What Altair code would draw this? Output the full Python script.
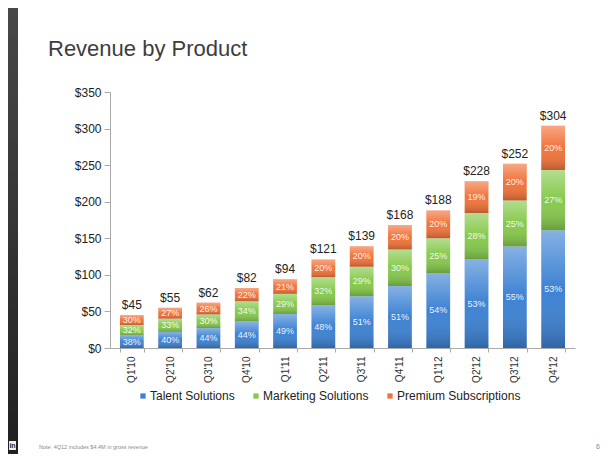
import altair as alt
import pandas as pd

quarters = ["Q1'10", "Q2'10", "Q3'10", "Q4'10", "Q1'11", "Q2'11",
            "Q3'11", "Q4'11", "Q1'12", "Q2'12", "Q3'12", "Q4'12"]
totals = [45, 55, 62, 82, 94, 121, 139, 168, 188, 228, 252, 304]
talent_pct = [38, 40, 44, 44, 49, 48, 51, 51, 54, 53, 55, 53]
marketing_pct = [32, 33, 30, 34, 29, 32, 29, 30, 25, 28, 25, 27]
premium_pct = [30, 27, 26, 22, 21, 20, 20, 20, 20, 19, 20, 20]
series = ["Talent Solutions", "Marketing Solutions", "Premium Subscriptions"]
colors = ["#3d82d3", "#86c94c", "#f1733a"]
y_ticks = [0, 50, 100, 150, 200, 250, 300, 350]

rows = []
for i, q in enumerate(quarters):
    pcts = [talent_pct[i], marketing_pct[i], premium_pct[i]]
    s = sum(pcts)
    base = 0.0
    for k, name in enumerate(series):
        v = totals[i] * pcts[k] / s
        rows.append({"quarter": q, "series": name, "y0": base, "y1": base + v,
                     "mid": base + v / 2, "label": f"{pcts[k]}%"})
        base += v
seg = pd.DataFrame(rows)
tot = pd.DataFrame({"quarter": quarters, "total": totals,
                    "label": [f"${t}" for t in totals]})

FONT = "Liberation Sans"
x_axis = alt.Axis(labelAngle=270, labelFontSize=10, labelColor="#333333",
                  labelFont=FONT, domainColor="#aaaaaa", tickColor="#aaaaaa",
                  tickSize=4, tickBand="extent", labelPadding=4)
x_scale = alt.Scale(paddingInner=0.38, paddingOuter=0.26)
y_scale = alt.Scale(domain=[0, 350], nice=False)
y_axis = alt.Axis(values=y_ticks, format="$.0f", grid=False, labelFontSize=12,
                  labelColor="#222222", labelFont=FONT, domainColor="#aaaaaa",
                  tickColor="#aaaaaa", tickSize=6, labelPadding=3,
                  labelOverlap=False, tickCount=8)


def X():
    return alt.X("quarter:N", sort=quarters, title=None, scale=x_scale, axis=x_axis)


def Y(field):
    return alt.Y(field, scale=y_scale, axis=y_axis, title=None)


bars = alt.Chart(seg).mark_bar().encode(
    x=X(),
    y=Y("y0:Q"),
    y2="y1:Q",
    color=alt.Color("series:N", sort=series,
                    scale=alt.Scale(domain=series, range=colors),
                    legend=alt.Legend(orient="none", direction="horizontal",
                                      legendX=27, legendY=298, title=None,
                                      symbolType="square", symbolSize=28,
                                      symbolStrokeWidth=0, labelFontSize=12,
                                      labelFont=FONT, labelColor="#222222",
                                      columnPadding=15, labelOffset=1)),
)

shade = alt.Chart(seg).mark_bar(
    color=alt.Gradient(gradient="linear", x1=0, x2=0, y1=0, y2=1,
                       stops=[alt.GradientStop(offset=0, color="rgba(255,255,255,0.38)"),
                              alt.GradientStop(offset=0.5, color="rgba(255,255,255,0.0)"),
                              alt.GradientStop(offset=1, color="rgba(0,0,0,0.22)")])
).encode(x=X(), y=Y("y0:Q"), y2="y1:Q")

pct_text = alt.Chart(seg).mark_text(font=FONT, fontSize=9, color="#ffffff",
                                    opacity=0.9, baseline="middle").encode(
    x=X(), y=Y("mid:Q"), text="label:N")

tot_text = alt.Chart(tot).mark_text(font=FONT, fontSize=12, color="#222222",
                                    dy=-6, baseline="alphabetic").encode(
    x=X(), y=Y("total:Q"), text="label:N")

deco = pd.DataFrame({"t": ["Revenue by Product"]})
title = alt.Chart(deco).mark_text(font=FONT, fontSize=22, color="#3d3d3d",
                                  align="left", baseline="alphabetic").encode(
    x=alt.value(-62), y=alt.value(-36), text="t:N")

strip = alt.Chart(deco).mark_rect(
    color=alt.Gradient(gradient="linear", x1=0, x2=0, y1=0, y2=1,
                       stops=[alt.GradientStop(offset=0, color="#484848"),
                              alt.GradientStop(offset=1, color="#202020")])
).encode(x=alt.value(-102), x2=alt.value(-92), y=alt.value(-84), y2=alt.value(370))

logo_bg = alt.Chart(deco).mark_rect(color="#f0f0f0").encode(
    x=alt.value(-101), x2=alt.value(-94), y=alt.value(349), y2=alt.value(358))
logo_txt = alt.Chart(pd.DataFrame({"t": ["in"]})).mark_text(
    font=FONT, fontSize=7, fontWeight="bold", color="#222222",
    align="center", baseline="middle").encode(
    x=alt.value(-97.5), y=alt.value(354), text="t:N")

note = alt.Chart(pd.DataFrame({"t": ["Note: 4Q12 includes $4.4M in gross revenue"]})).mark_text(
    font=FONT, fontSize=5.5, color="#8a8a8a", align="left", baseline="alphabetic").encode(
    x=alt.value(-71), y=alt.value(357), text="t:N")
page = alt.Chart(pd.DataFrame({"t": ["6"]})).mark_text(
    font=FONT, fontSize=7, color="#8a8a8a", align="left", baseline="alphabetic").encode(
    x=alt.value(486), y=alt.value(357), text="t:N")

chart = alt.layer(strip, bars, shade, pct_text, tot_text, title, logo_bg, logo_txt,
                  note, page).properties(
    width=465, height=256,
    autosize=alt.AutoSizeParams(type="none"),
    padding={"left": 102, "top": 84, "right": 33, "bottom": 106},
).configure_view(strokeWidth=0)

chart.save("out.html", embed_options={"renderer": "svg", "actions": False})
